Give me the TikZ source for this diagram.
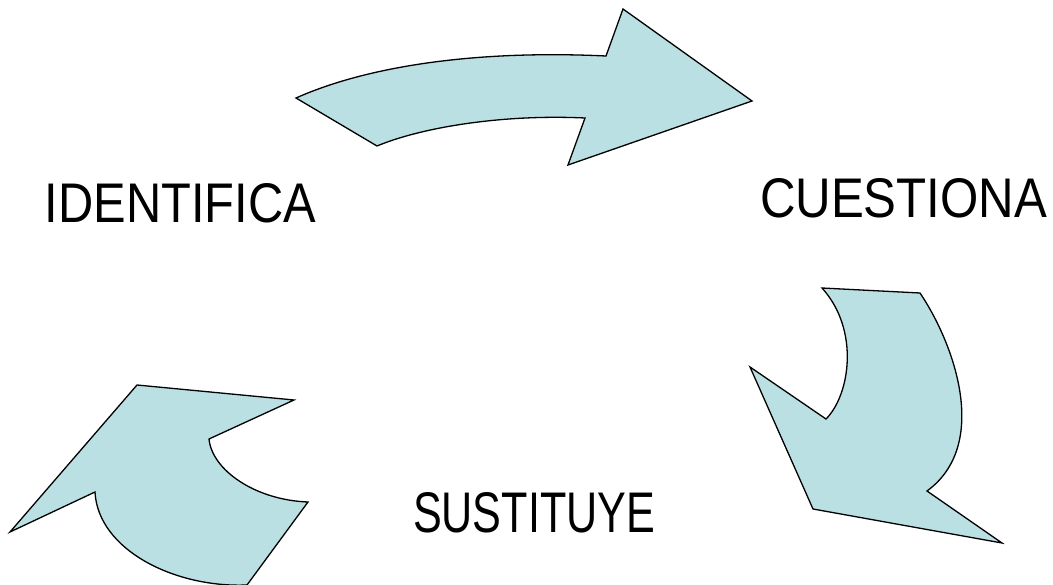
\documentclass[tikz,border=0pt]{standalone}
\usepackage{fontspec}
\setmainfont{Liberation Sans}
\definecolor{arrowfill}{RGB}{186,224,227}
\begin{document}
\begin{tikzpicture}[x=1pt,y=-1pt,
  bigarrow/.style={fill=arrowfill,draw=black,line width=1.3pt,line join=miter},
  label/.style={anchor=south west,inner sep=0pt,outer sep=0pt}]
\useasboundingbox (0,0) rectangle (1053,585);
\clip (0,0) rectangle (1053,585);
% top arrow
\draw[bigarrow] (296,98) -- (377,146)
  .. controls (420,128) and (500,114) .. (585,118)
  -- (568,165) -- (752,101) -- (623,9) -- (606,56)
  .. controls (480,50) and (370,65) .. cycle;
% right arrow
\draw[bigarrow] (822,288) -- (920,293)
  .. controls (955,345) and (990,445) .. (927,491)
  -- (1002,543) -- (813,509) -- (750,367) -- (826,419)
  .. controls (850,395) and (860,330) .. cycle;
% left arrow
\draw[bigarrow] (137,385) -- (294,400) -- (209,439)
  .. controls (212,470) and (255,500) .. (308,502)
  -- (247,585)
  .. controls (175,588) and (98,550) .. (95,492)
  -- (10,532) -- cycle;
\node[label] (identifica) at (45,223) {\resizebox{271pt}{39pt}{IDENTIFICA}};
\node[label] (cuestiona) at (760,218) {\resizebox{287pt}{39pt}{CUESTIONA}};
\node[label] (sustituye) at (413,533) {\resizebox{242pt}{40pt}{SUSTITUYE}};
\end{tikzpicture}
\end{document}
